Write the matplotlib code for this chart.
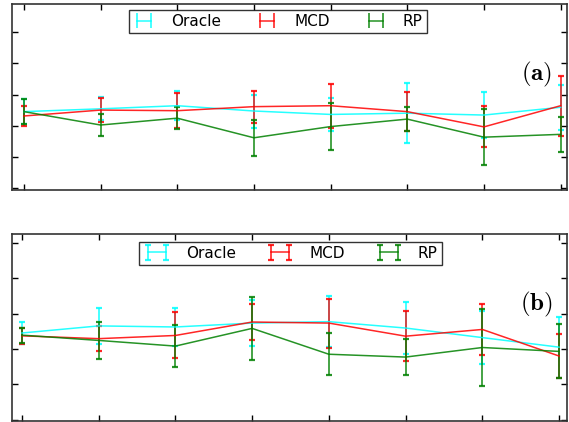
import numpy as np
import matplotlib.pyplot as plt
from matplotlib.legend_handler import HandlerErrorbar

plt.rcParams['mathtext.fontset'] = 'cm'

# x positions (8 settings)
x = np.arange(1, 9)
labels = ['Oracle', 'MCD', 'RP']
colors = ['#00ffff', '#ff0000', '#008000']

# panel (a): means and error half-widths
a_oracle = [2.45, 2.54, 2.64, 2.47, 2.36, 2.40, 2.34, 2.59]
a_oracle_err = [0.40, 0.37, 0.46, 0.53, 0.52, 0.96, 0.73, 0.72]
a_mcd = [2.31, 2.50, 2.48, 2.61, 2.64, 2.45, 1.96, 2.64]
a_mcd_err = [0.33, 0.39, 0.56, 0.51, 0.71, 0.63, 0.66, 0.97]
a_rp = [2.45, 2.02, 2.24, 1.61, 1.97, 2.21, 1.63, 1.72]
a_rp_err = [0.40, 0.36, 0.35, 0.58, 0.75, 0.39, 0.89, 0.56]

# panel (b)
b_oracle = [2.45, 2.65, 2.62, 2.73, 2.77, 2.59, 2.32, 2.05]
b_oracle_err = [0.30, 0.52, 0.53, 0.66, 0.72, 0.74, 0.75, 0.86]
b_mcd = [2.37, 2.29, 2.38, 2.76, 2.73, 2.36, 2.55, 1.80]
b_mcd_err = [0.22, 0.35, 0.65, 0.50, 0.69, 0.71, 0.72, 0.63]
b_rp = [2.39, 2.24, 2.08, 2.58, 1.85, 1.77, 2.04, 1.93]
b_rp_err = [0.21, 0.53, 0.59, 0.89, 0.59, 0.51, 1.08, 0.76]


# legend handler without the little caps (panel a)
class NoCapHandler(HandlerErrorbar):
    def create_artists(self, *args, **kwargs):
        arts = super().create_artists(*args, **kwargs)
        for a in arts:
            if hasattr(a, 'get_marker') and a.get_marker() == '_':
                a.set_visible(False)
        return arts


def draw_panel(ax, series, xlim, ylim, tag, leg_x, leg_y, hlen, colsp, nocap):
    for (m, e), lab, col in zip(series, labels, colors):
        ax.errorbar(x, m, yerr=e, color=col, lw=1.1, elinewidth=1.2,
                    capsize=2.5, capthick=1.6, alpha=0.85, label=lab)
    ax.set_xlim(*xlim)
    ax.set_ylim(*ylim)
    ax.set_xticks(x)
    ax.set_yticks(range(0, 6))
    ax.tick_params(direction='in', top=True, right=True, length=4, width=1,
                   labelleft=False, labelbottom=False)
    for s in ax.spines.values():
        s.set_color('#333333')
        s.set_linewidth(1.2)
    hm = None
    if nocap:
        hm = {c: NoCapHandler() for c in ax.containers}
    leg = ax.legend(loc='upper center', ncol=3, numpoints=2, fontsize=11,
                    frameon=True, fancybox=False, edgecolor='black',
                    handlelength=hlen, handletextpad=1.0, columnspacing=colsp,
                    borderpad=0.25, borderaxespad=0,
                    bbox_to_anchor=(leg_x, leg_y), handler_map=hm)
    leg.get_frame().set_linewidth(1)
    ax.text(0.946, 0.622, tag, transform=ax.transAxes, fontsize=18,
            ha='center', va='center')


fig = plt.figure(figsize=(5.69, 4.22), dpi=100)
ax1 = fig.add_axes([0.021, 0.550, 0.975, 0.440])
ax2 = fig.add_axes([0.021, 0.002, 0.975, 0.443])

draw_panel(ax1, [(a_oracle, a_oracle_err), (a_mcd, a_mcd_err), (a_rp, a_rp_err)],
           (0.844, 8.08), (-0.064, 5.90), r'$\mathbf{(a)}$', 0.479, 0.968, 1.5, 2.3, True)
draw_panel(ax2, [(b_oracle, b_oracle_err), (b_mcd, b_mcd_err), (b_rp, b_rp_err)],
           (0.87, 8.10), (-0.04, 5.24), r'$\mathbf{(b)}$', 0.502, 0.959, 1.8, 2.0, False)

fig.savefig('out.png', dpi=100)
